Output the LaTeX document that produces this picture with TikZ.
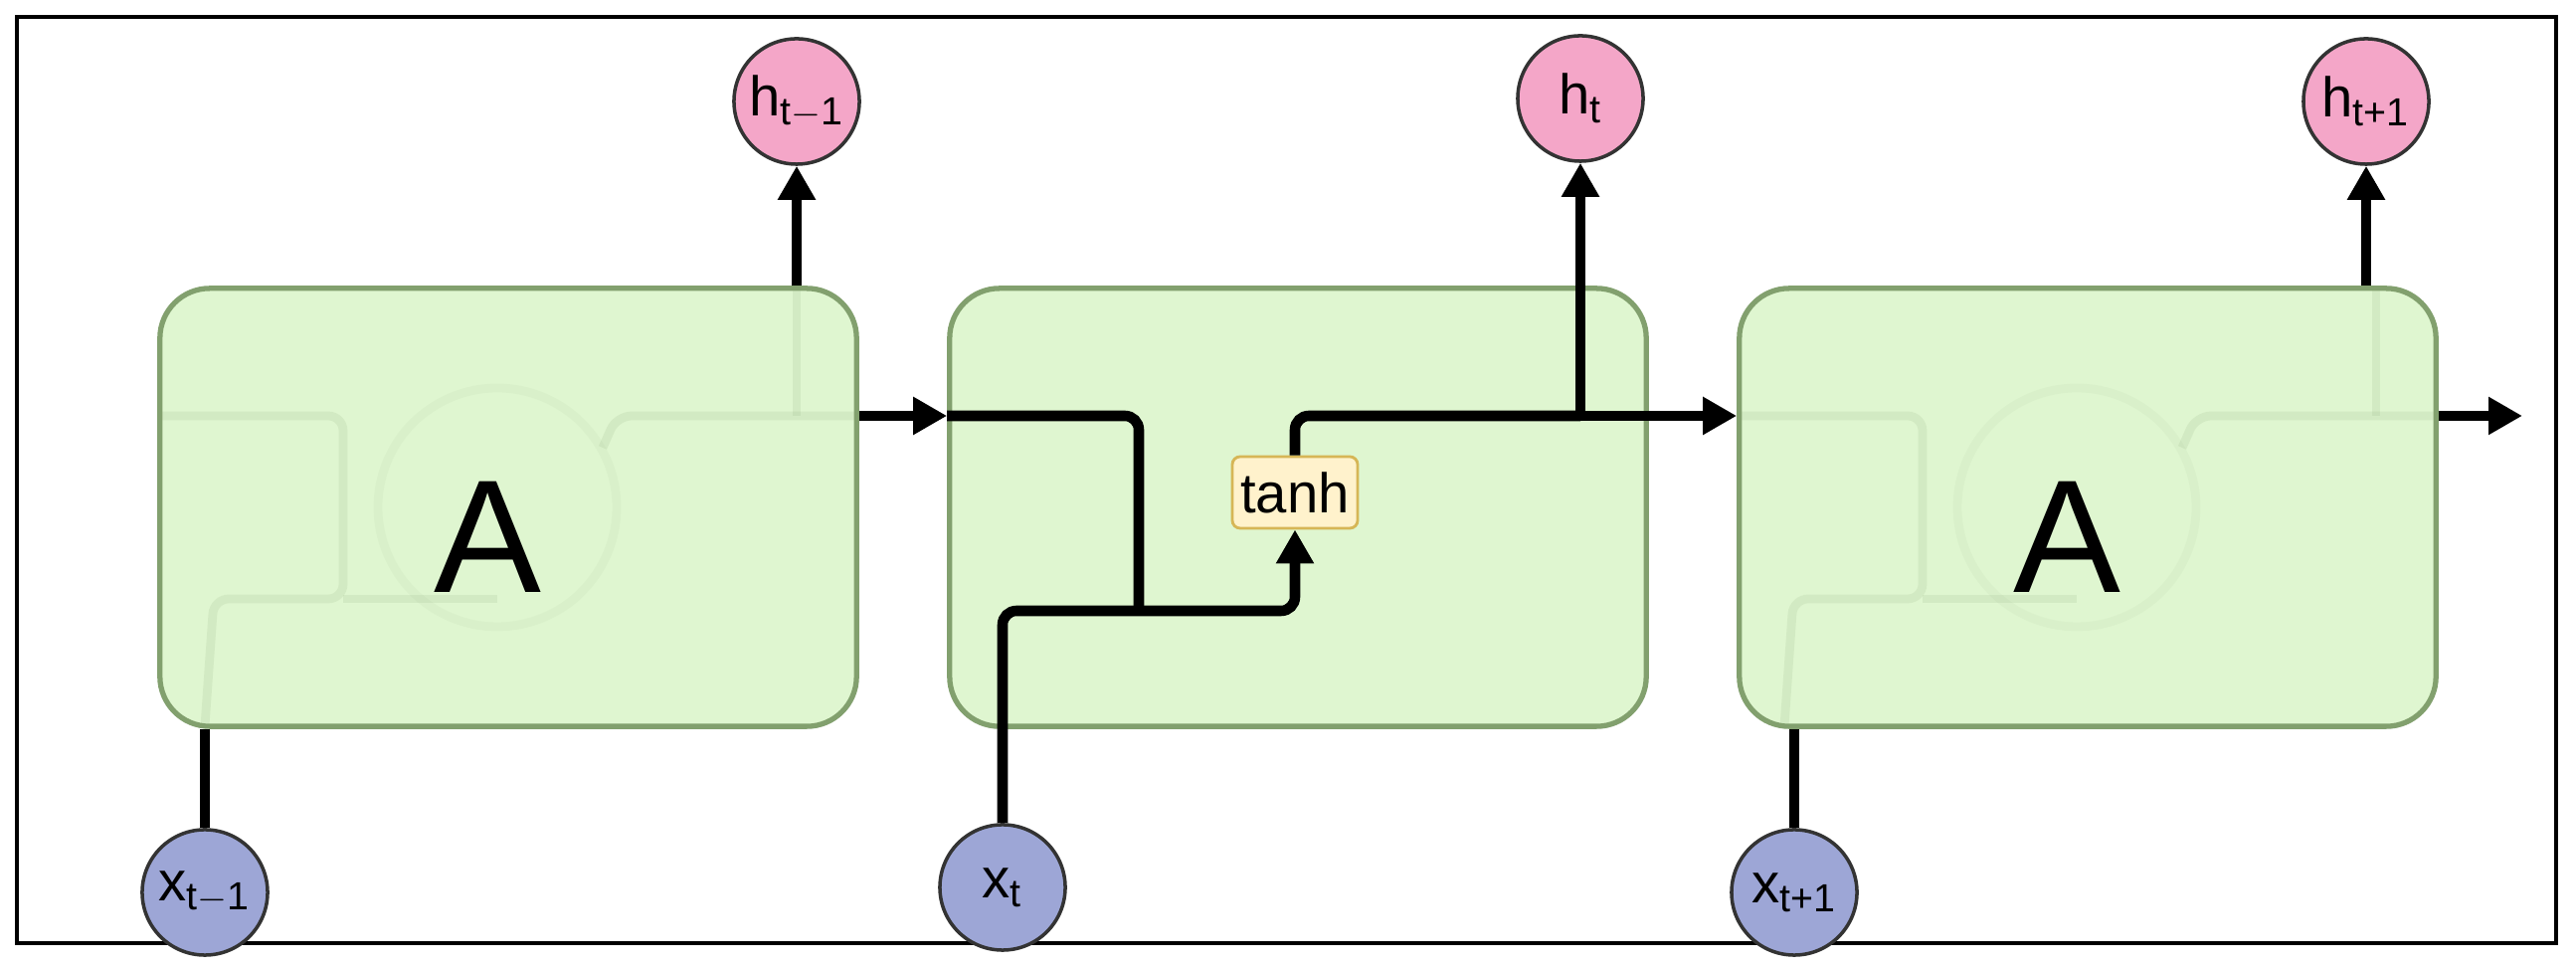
\documentclass[tikz,border=0pt]{standalone}
\usepackage{fontspec}
\setmainfont{Liberation Sans}
\usetikzlibrary{arrows.meta}
\definecolor{cellfill}{HTML}{DFF6D0}
\definecolor{celldraw}{HTML}{82A06E}
\definecolor{hfill}{HTML}{F4A6C8}
\definecolor{xfill}{HTML}{9DA6D6}
\definecolor{tfill}{HTML}{FFF2CC}
\definecolor{tdraw}{HTML}{D6B656}
\tikzset{
 cell/.style={draw=celldraw,fill=cellfill,line width=1.5pt,rounded corners=0.5cm,minimum width=7.0cm,minimum height=4.4cm,inner sep=0pt},
 hc/.style={circle,draw=black!80,line width=1pt,fill=hfill,minimum size=1.26cm,inner sep=0pt,font=\fontsize{16}{18}\selectfont},
 xc/.style={circle,draw=black!80,line width=1pt,fill=xfill,minimum size=1.26cm,inner sep=0pt,font=\fontsize{16}{18}\selectfont},
 conn/.style={line width=3pt,rounded corners=0.14cm},
 arr/.style={conn,-{Triangle[length=0.34cm,width=0.36cm]}},
 ghost/.style={draw=celldraw,opacity=0.13,line width=2.5pt,rounded corners=0.15cm},
}
\begin{document}
\begin{tikzpicture}[x=0.01cm,y=-0.01cm]
\useasboundingbox (0,0) rectangle (2590,974);
\fill[white] (0,0) rectangle (2590,974);
\draw[line width=1.3pt] (17,17) rectangle (2570,948);
% cells
\node[cell] (c1) at (511,510) {};
\node[cell] (c2) at (1305,510) {};
\node[cell] (c3) at (2099,510) {};
% ghost lines in A cells
\foreach \dx in {0,1588}{
 \draw[ghost] (160+\dx,418) -- (345+\dx,418) -- (345+\dx,602) -- (215+\dx,602) -- (206+\dx,730);
 \draw[ghost] (345+\dx,602) -- (500+\dx,602);
 \draw[ghost] (863+\dx,418) -- (620+\dx,418) -- (606+\dx,450);
 \draw[ghost] (801+\dx,418) -- (801+\dx,289);
 \draw[ghost,opacity=0.06] (500+\dx,510) circle (120);
}
\node[font=\fontsize{46}{50}\selectfont] (A1) at (490,540) {A};
\node[font=\fontsize{46}{50}\selectfont] (A3) at (2078,540) {A};
% circles
\node[hc] (h1) at (801,102) {h\textsubscript{t$-$1}};
\node[hc] (h2) at (1589,99) {h\textsubscript{t}};
\node[hc] (h3) at (2379,102) {h\textsubscript{t+1}};
\node[xc] (x1) at (206,897) {x\textsubscript{t$-$1}};
\node[xc] (x2) at (1008,892) {x\textsubscript{t}};
\node[xc] (x3) at (1804,897) {x\textsubscript{t+1}};
% tanh
\node[draw=tdraw,fill=tfill,rounded corners=0.08cm,line width=0.8pt,minimum width=1.26cm,minimum height=0.72cm,inner sep=0pt,font=\fontsize{16}{18}\selectfont] (tanh) at (1302,495) {tanh};
% coordinates
\coordinate (j1) at (1145,614);
\coordinate (j2) at (1589,418);
\coordinate (out) at (2536,418);
% connectors
\draw[conn] (x1) -- (x1 |- c1.south);
\draw[arr] (c1.north -| h1) -- (h1);
\draw[conn] (x3) -- (x3 |- c3.south);
\draw[arr] (c3.north -| h3) -- (h3);
\draw[arr] (c1.east |- j2) -- (c2.west |- j2);
\draw[conn] (c2.west |- j2) -- (j1 |- j2) -- (j1);
\draw[arr] (x2) -- (1008,614) -- (1302,614) -- (tanh.south);
\draw[conn] (tanh.north) -- (1302,418) -- (j2);
\draw[arr] (j2) -- (c3.west |- j2);
\draw[arr] (j2) -- (h2);
\draw[arr] (c3.east |- out) -- (out);
\end{tikzpicture}
\end{document}
